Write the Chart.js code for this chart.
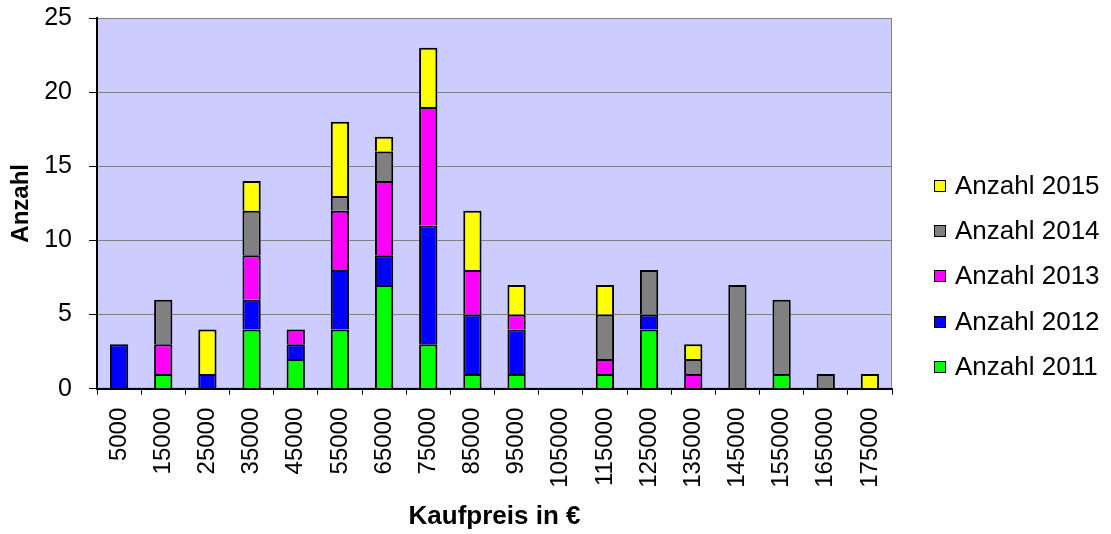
<!DOCTYPE html>
<html>
<head>
<meta charset="utf-8">
<script src="https://cdn.jsdelivr.net/npm/chart.js@4.4.1/dist/chart.umd.min.js"></script>
<style>
  html, body { margin: 0; padding: 0; background: #fff; }
  canvas { display: block; }
</style>
</head>
<body>
<canvas id="chart" width="1111" height="534"></canvas>
<script>
// Kaufpreis-Klassen (x axis)
const prices = ['5000', '15000', '25000', '35000', '45000', '55000', '65000', '75000', '85000',
  '95000', '105000', '115000', '125000', '135000', '145000', '155000', '165000', '175000'];

// counts per year
const count2011 = [0, 1, 0, 4, 2, 4, 7, 3, 1, 1, 0, 1, 4, 0, 0, 1, 0, 0];
const count2012 = [3, 0, 1, 2, 1, 4, 2, 8, 4, 3, 0, 0, 1, 0, 0, 0, 0, 0];
const count2013 = [0, 2, 0, 3, 1, 4, 5, 8, 3, 1, 0, 1, 0, 1, 0, 0, 0, 0];
const count2014 = [0, 3, 0, 3, 0, 1, 2, 0, 0, 0, 0, 3, 3, 1, 7, 5, 1, 0];
const count2015 = [0, 0, 3, 2, 0, 5, 1, 4, 4, 2, 0, 2, 0, 1, 0, 0, 0, 1];

const FONT = 'Arial, "Liberation Sans", sans-serif';

// lavender plot area with a grey frame
const plotBackground = {
  id: 'plotBackground',
  beforeDraw(chart) {
    const { ctx, chartArea: a } = chart;
    ctx.save();
    ctx.fillStyle = '#CCCCFF';
    ctx.fillRect(a.left, a.top, a.right - a.left, a.bottom - a.top);
    ctx.strokeStyle = '#808080';
    ctx.lineWidth = 1;
    ctx.strokeRect(a.left + 0.5, a.top + 0.5, a.right - a.left - 1, a.bottom - a.top - 1);
    ctx.restore();
  }
};

// legend on the right, newest year on top
const sideLegend = {
  id: 'sideLegend',
  afterDraw(chart) {
    const ctx = chart.ctx;
    const x = chart.chartArea.right + 42;
    const sets = chart.data.datasets.slice().reverse();
    ctx.save();
    ctx.font = '26px ' + FONT;
    ctx.textBaseline = 'middle';
    sets.forEach((ds, i) => {
      const y = Math.round(186 + i * 45.2);
      ctx.fillStyle = ds.backgroundColor;
      ctx.fillRect(x, y - 6, 12, 12);
      ctx.strokeStyle = '#000';
      ctx.lineWidth = 1;
      ctx.strokeRect(x + 0.5, y - 5.5, 11, 11);
      ctx.fillStyle = '#000';
      ctx.fillText(ds.label, x + 21, y + 1);
    });
    ctx.restore();
  }
};

const barStyle = { borderColor: '#000', borderWidth: 2, barPercentage: 0.414, categoryPercentage: 1 };

new Chart(document.getElementById('chart'), {
  type: 'bar',
  data: {
    labels: prices,
    datasets: [
      { label: 'Anzahl 2011', data: count2011, backgroundColor: '#00FF00', ...barStyle },
      { label: 'Anzahl 2012', data: count2012, backgroundColor: '#0000FF', ...barStyle },
      { label: 'Anzahl 2013', data: count2013, backgroundColor: '#FF00FF', ...barStyle },
      { label: 'Anzahl 2014', data: count2014, backgroundColor: '#808080', ...barStyle },
      { label: 'Anzahl 2015', data: count2015, backgroundColor: '#FFFF00', ...barStyle }
    ]
  },
  options: {
    responsive: false,
    animation: false,
    layout: { padding: { top: 18, right: 219, bottom: 0, left: 0 } },
    plugins: {
      legend: { display: false },
      tooltip: { enabled: false }
    },
    scales: {
      x: {
        stacked: true,
        grid: { drawOnChartArea: false, tickLength: 6, tickColor: '#000', offset: true },
        border: { color: '#000', width: 2 },
        ticks: {
          color: '#000', font: { family: FONT, size: 24 },
          minRotation: 90, maxRotation: 90, autoSkip: false, padding: 13
        },
        title: {
          display: true, text: 'Kaufpreis in €', color: '#000',
          font: { family: FONT, size: 26, weight: 'bold' },
          padding: { top: 0, bottom: 2 }
        }
      },
      y: {
        stacked: true,
        min: 0,
        max: 25,
        grid: { color: '#808080', tickColor: '#000', tickLength: 8 },
        border: { color: '#000', width: 2 },
        ticks: { stepSize: 5, color: '#000', font: { family: FONT, size: 25 }, padding: 17 },
        title: {
          display: true, text: 'Anzahl', color: '#000',
          font: { family: FONT, size: 24, weight: 'bold' },
          padding: { top: 7, bottom: 4 }
        },
        // fixed axis width, and don't let the tick padding push the plot top down
        afterFit(scale) {
          scale.width = 97;
          scale.paddingTop = 0;
          scale.paddingBottom = 0;
        }
      }
    }
  },
  plugins: [plotBackground, sideLegend]
});
</script>
</body>
</html>
